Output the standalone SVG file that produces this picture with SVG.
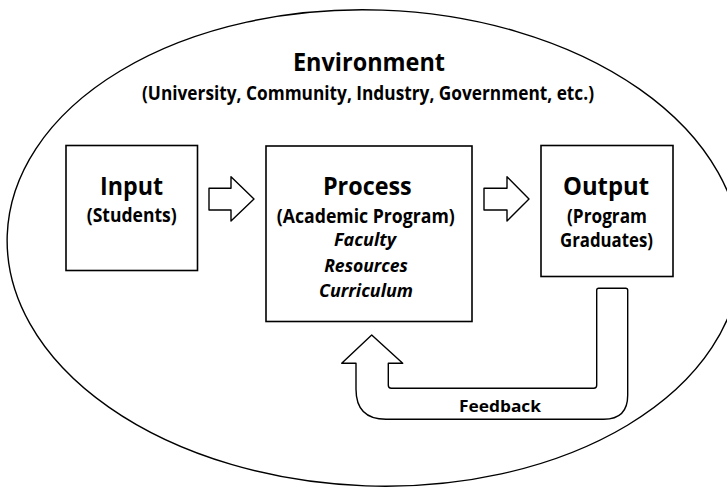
<svg xmlns="http://www.w3.org/2000/svg" width="727" height="487" viewBox="0 0 727 487">
  <style>
    .line { fill: #fff; stroke: #000; stroke-width: 1.4; stroke-linejoin: round; }
    .box { fill: #fff; stroke: #000; stroke-width: 1.6; }
    text { font-family: "Open Sans", "Noto Sans", "Liberation Sans", sans-serif; fill: #000; text-anchor: middle; }
    .h1 { font-size: 25px; font-weight: 700; }
    .h2 { font-size: 19px; font-weight: 700; }
    .it { font-size: 17px; font-weight: 700; font-style: italic; }
    .fb { font-size: 16.5px; font-weight: 700; }
  </style>
  <rect width="727" height="487" fill="#fff"/>
  <g id="environment">
    <ellipse class="line" cx="374" cy="248" rx="367" ry="238" transform="rotate(2 374 248)"/>
    <text class="h1" x="369" y="71" textLength="152" lengthAdjust="spacingAndGlyphs">Environment</text>
    <text class="h2" x="368" y="100" textLength="452" lengthAdjust="spacingAndGlyphs">(University, Community, Industry, Government, etc.)</text>
  </g>
  <g id="input">
    <rect class="box" x="66" y="145.5" width="131.5" height="125"/>
    <text class="h1" x="131.5" y="195" textLength="63" lengthAdjust="spacingAndGlyphs">Input</text>
    <text class="h2" x="131.7" y="222" textLength="90" lengthAdjust="spacingAndGlyphs">(Students)</text>
  </g>
  <g id="process">
    <rect class="box" x="266" y="146" width="206" height="175.5"/>
    <text class="h1" x="367.3" y="195" textLength="88.7" lengthAdjust="spacingAndGlyphs">Process</text>
    <text class="h2" x="365.8" y="223" textLength="178" lengthAdjust="spacingAndGlyphs">(Academic Program)</text>
    <text class="it" x="365" y="246" textLength="62" lengthAdjust="spacingAndGlyphs">Faculty</text>
    <text class="it" x="366" y="271.5" textLength="83.7" lengthAdjust="spacingAndGlyphs">Resources</text>
    <text class="it" x="366" y="297" textLength="94" lengthAdjust="spacingAndGlyphs">Curriculum</text>
  </g>
  <g id="output">
    <rect class="box" x="541" y="145.5" width="132" height="131"/>
    <text class="h1" x="606" y="195" textLength="86" lengthAdjust="spacingAndGlyphs">Output</text>
    <text class="h2" x="607" y="223" textLength="80" lengthAdjust="spacingAndGlyphs">(Program</text>
    <text class="h2" x="606.5" y="246.5" textLength="93" lengthAdjust="spacingAndGlyphs">Graduates)</text>
  </g>
  <g id="connectors">
    <polygon class="line" points="209,188.3 231,188.3 231,176.7 254,199 231,221 231,210 209,210"/>
    <polygon class="line" points="484,188.3 507,188.3 507,176.7 529,199 507,221 507,210 484,210"/>
    <path class="line" d="M598.7,288.3 L625.7,288.3 Q627.7,288.3 627.7,290.3 L627.7,395.3 Q627.7,419.3 603.7,419.3 L386,419.3 Q356,419.3 356,389.3 L356,363.3 L341.7,363.3 L371.7,335 L402.7,363.3 L388.3,363.3 L388.3,385.3 Q388.3,388.3 391.3,388.3 L593.7,388.3 Q596.7,388.3 596.7,385.3 L596.7,290.3 Q596.7,288.3 598.7,288.3 Z"/>
    <text class="fb" x="500" y="411.7" textLength="82" lengthAdjust="spacingAndGlyphs">Feedback</text>
  </g>
</svg>
